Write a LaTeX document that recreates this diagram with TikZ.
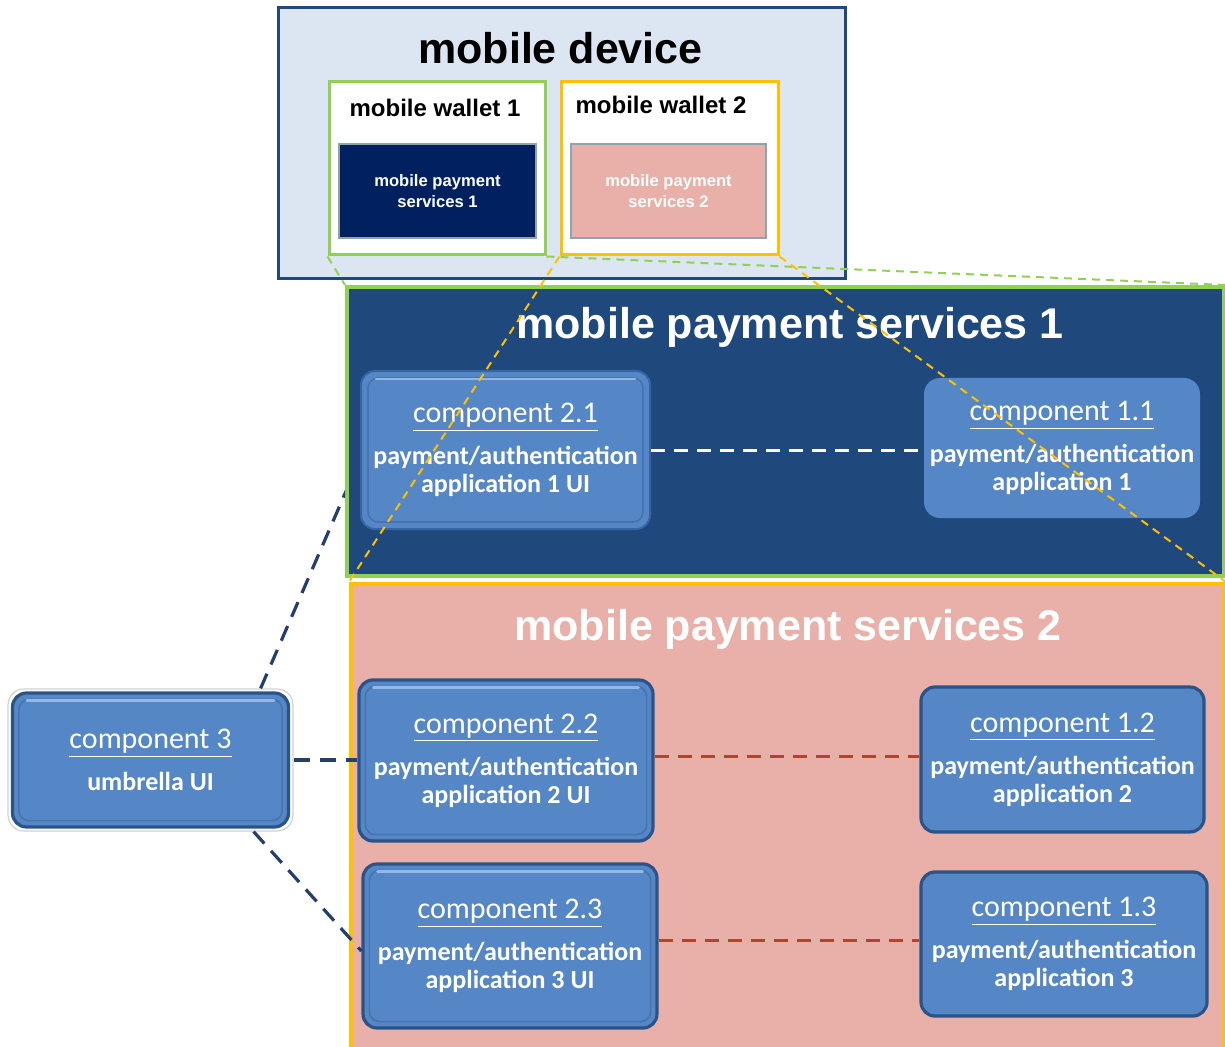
\documentclass[tikz,border=0pt]{standalone}
\usepackage{fontspec}
\setmainfont{Carlito}
\newfontfamily\arialfont{Liberation Sans}
\usetikzlibrary{calc}

\definecolor{devfill}{HTML}{DCE6F2}
\definecolor{devedge}{HTML}{1F497D}
\definecolor{mpsblue}{HTML}{1F497D}
\definecolor{walletgreen}{HTML}{92D050}
\definecolor{walletorange}{HTML}{FFC000}
\definecolor{mpspink}{HTML}{E8B0A8}
\definecolor{svcnavy}{HTML}{002060}
\definecolor{svcedge}{HTML}{8FA3AD}
\definecolor{compfill}{HTML}{5586C6}
\definecolor{compedge}{HTML}{2A5488}
\definecolor{compedgelight}{HTML}{3566A3}
\definecolor{bevelshade}{HTML}{4773AE}
\definecolor{bevellight}{HTML}{93B8E6}
\definecolor{linknavy}{HTML}{243F6B}
\definecolor{linkred}{HTML}{B4432E}

\newcommand\cmplabel[1]{{\mdseries\fontsize{15}{15}\selectfont\underline{#1}}\\[7pt]}

\begin{document}
\begin{tikzpicture}[x=0.5pt,y=-0.5pt,
  bigtitle/.style={font=\arialfont\bfseries\fontsize{21.5}{24}\selectfont, anchor=base, inner sep=0},
  wallettitle/.style={font=\arialfont\bfseries\fontsize{12}{14}\selectfont, anchor=base, inner sep=0},
  svcbox/.style={draw=svcedge, line width=0.8pt, text=white, align=center, inner sep=0,
    font=\arialfont\bfseries\fontsize{8.3}{10.5}\selectfont},
  comptext/.style={text=white, align=center, inner sep=0, font=\bfseries\fontsize{13}{14}\selectfont},
  compbox/.style={comptext, fill=compfill, draw=compedge, line width=1.6pt, rounded corners=7pt},
  compflat/.style={comptext, fill=compfill, rounded corners=8pt},
  bevelin/.style={draw=bevelshade, line width=0.8pt, rounded corners=5pt},
  bevelhi/.style={draw=bevellight, line width=1.2pt, line cap=round},
  linkwhite/.style={draw=white, line width=1.5pt, dash pattern=on 7pt off 4.5pt},
  linkred/.style={draw=linkred, line width=1.5pt, dash pattern=on 7pt off 4.5pt},
  linknavy/.style={draw=linknavy, line width=1.6pt, dash pattern=on 8pt off 5pt},
  zoomgreen/.style={draw=walletgreen, line width=1pt, dash pattern=on 4pt off 3pt},
  zoomorange/.style={draw=walletorange, line width=1pt, dash pattern=on 4pt off 3pt},
]
\clip (0,0) rectangle (1225,1047);
\coordinate (pagebottom) at (0,1047);

% mobile device with its two wallets
\node[draw=devedge, fill=devfill, line width=1.5pt, minimum width=283.5pt, minimum height=135.5pt, inner sep=0] (device) at (561.5,143.5) {};
\node[bigtitle] (devtitle) at (560.5,64) {mobile device};

\node[draw=walletgreen, fill=white, line width=1.5pt, minimum width=108pt, minimum height=86.5pt, inner sep=0] (wallet1) at (437,168.5) {};
\node[wallettitle] (w1title) at (435,116.5) {mobile wallet 1};
\node[svcbox, fill=svcnavy, minimum width=98.5pt, minimum height=47pt] (svc1) at (437.5,191) {mobile payment\\services 1};

\node[draw=walletorange, fill=white, line width=1.5pt, minimum width=108.5pt, minimum height=86.5pt, inner sep=0] (wallet2) at (669.5,168.5) {};
\node[wallettitle] (w2title) at (661,113.5) {mobile wallet 2};
\node[svcbox, fill=mpspink, minimum width=97.5pt, minimum height=47pt] (svc2) at (668.5,191) {mobile payment\\services 2};

% mobile payment services 2 frame
\node[draw=walletorange, fill=mpspink, line width=2pt, minimum width=436.5pt, minimum height=248pt, inner sep=0] (mps2) at (787.5,832) {};
\node[bigtitle, text=white] (mps2title) at (788,640.5) {mobile payment services 2};

% mobile payment services 1 frame
\node[draw=walletgreen, fill=mpsblue, line width=2pt, minimum width=438.5pt, minimum height=144.5pt, inner sep=0] (mps1) at (785.5,431.5) {};
\node[bigtitle, text=white] (mps1title) at (790,338.5) {mobile payment services 1};

% umbrella component
\node[draw=black!18, fill=white, line width=0.6pt, rounded corners=8pt, minimum width=142.5pt, minimum height=71pt, inner sep=0] (c3) at (150.5,760) {};
\node[compbox, minimum width=138pt, minimum height=67pt] (c3body) at (150.5,760) {\cmplabel{component 3}umbrella UI};

% UI components and applications
\node[compbox, minimum width=144.5pt, minimum height=79pt, draw=compedgelight, line width=1pt] (c21) at (505.5,450)
  {\cmplabel{component 2.1}payment/authentication\\application 1 UI};
\node[compbox, minimum width=147pt, minimum height=80.5pt] (c22) at (506,760.5)
  {\cmplabel{component 2.2}payment/authentication\\application 2 UI};
\node[compbox, minimum width=147pt, minimum height=82pt] (c23) at (510,946)
  {\cmplabel{component 2.3}payment/authentication\\application 3 UI};
\node[compflat, minimum width=138pt, minimum height=70pt] (c11) at (1062,448)
  {\cmplabel{component 1.1}payment/authentication\\application 1};
\node[compbox, minimum width=141.5pt, minimum height=72.5pt] (c12) at (1062.5,759.5)
  {\cmplabel{component 1.2}payment/authentication\\application 2};
\node[compbox, minimum width=143pt, minimum height=72pt] (c13) at (1064,944)
  {\cmplabel{component 1.3}payment/authentication\\application 3};

% bevel shading on the UI boxes
\foreach \c in {c21,c22,c23,c3body}{
  \draw[bevelin] ([shift={(4pt,-4pt)}]\c.north west) rectangle ([shift={(-4pt,4pt)}]\c.south east);
  \draw[bevelhi] ([shift={(8pt,-4.5pt)}]\c.north west) -- ([shift={(-8pt,-4.5pt)}]\c.north east);
}

% links from the umbrella UI; the one to component 2.1 runs behind its frame
\begin{scope}
  \clip (0,0) rectangle (mps1.west |- pagebottom);
  \draw[linknavy] ([xshift=-16.5pt]c3.north east) -- ([yshift=-4.5pt]c21.west);
\end{scope}
\draw[linknavy] (c3.east) -- (c3.east -| c22.west);
\draw[linknavy] ([xshift=-20pt]c3.south east) -- ([yshift=-2.5pt]c23.west);

% links between UI components and applications
\draw[linkwhite] ([yshift=-0.5pt]c21.east) -- ([yshift=-0.5pt]c21.east -| c11.west);
\draw[linkred] ([yshift=2pt]c22.east) -- ([yshift=2pt]c22.east -| c12.west);
\draw[linkred] ([yshift=3pt]c23.east) -- ([yshift=3pt]c23.east -| c13.west);

% projections of the wallets onto their detailed views
\draw[zoomgreen] (wallet1.south west) -- (mps1.north west);
\draw[zoomgreen] (wallet1.south east) -- (mps1.north east);
\draw[zoomorange] (wallet2.south west) -- (mps2.north west);
\draw[zoomorange] (wallet2.south east) -- (mps2.north east);
\end{tikzpicture}
\end{document}
